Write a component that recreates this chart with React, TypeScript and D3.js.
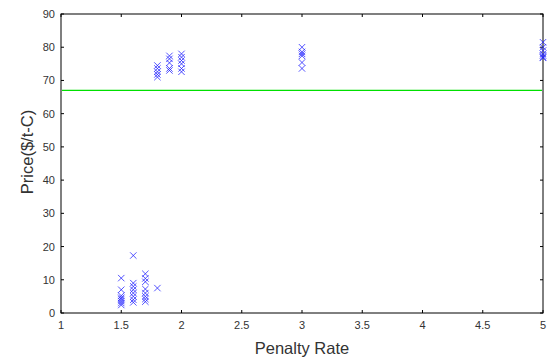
import * as d3 from "d3";
import React, { useRef, useEffect } from "react";

// penalty rates and the prices
const rates = [1.5, 1.6, 1.7, 1.8, 1.9, 2.0, 3.0, 5.0];
const prices = [
  [10.5, 7, 5.2, 4.6, 4.2, 3.6, 3.0, 2.4],
  [17.3, 9, 8, 7, 6, 5, 4, 3.2],
  [11.8, 10.4, 9.4, 7.2, 6, 5, 4.2, 3.4],
  [7.5, 74.5, 73.6, 72.6, 71.8, 71],
  [77.4, 76.5, 75.3, 73.6, 73],
  [78, 77, 76, 75, 73.6, 72.6],
  [80, 78.6, 78, 77.4, 75.4, 73.6],
  [81.5, 80, 79, 78, 77.5, 77, 76.8],
];
const threshold = 67;
const xTicks = [1, 1.5, 2, 2.5, 3, 3.5, 4, 4.5, 5];
const yTicks = [0, 10, 20, 30, 40, 50, 60, 70, 80, 90];

function App() {
  const ref = useRef(null);

  useEffect(() => {
    const svg = d3.select(ref.current);
    svg.selectAll("*").remove();

    const left = 61, right = 543, top = 14, bottom = 313;
    const x = d3.scaleLinear().domain([1, 5]).range([left, right]);
    const y = d3.scaleLinear().domain([0, 90]).range([bottom, top]);
    const font = "Liberation Sans, Arial, sans-serif";

    // frame
    svg.append("rect")
      .attr("x", left).attr("y", top)
      .attr("width", right - left).attr("height", bottom - top)
      .attr("fill", "none").attr("stroke", "#000").attr("stroke-width", 1);

    // inward ticks on all four sides
    const g = svg.append("g").attr("stroke", "#000").attr("stroke-width", 1);
    xTicks.forEach((t) => {
      g.append("line").attr("x1", x(t)).attr("x2", x(t)).attr("y1", bottom).attr("y2", bottom - 3);
      g.append("line").attr("x1", x(t)).attr("x2", x(t)).attr("y1", top).attr("y2", top + 3);
    });
    yTicks.forEach((t) => {
      g.append("line").attr("x1", left).attr("x2", left + 3).attr("y1", y(t)).attr("y2", y(t));
      g.append("line").attr("x1", right).attr("x2", right - 3).attr("y1", y(t)).attr("y2", y(t));
    });

    svg.append("g").selectAll("text").data(xTicks).enter().append("text")
      .attr("x", (d) => x(d)).attr("y", bottom + 16)
      .attr("text-anchor", "middle")
      .attr("font-family", font).attr("font-size", 11).attr("fill", "#333")
      .text((d) => d);

    svg.append("g").selectAll("text").data(yTicks).enter().append("text")
      .attr("x", left - 6).attr("y", (d) => y(d) + 4)
      .attr("text-anchor", "end")
      .attr("font-family", font).attr("font-size", 11).attr("fill", "#333")
      .text((d) => d);

    svg.append("text")
      .attr("x", (left + right) / 2).attr("y", 354)
      .attr("text-anchor", "middle")
      .attr("font-family", font).attr("font-size", 16.5).attr("fill", "#333")
      .text("Penalty Rate");

    svg.append("text")
      .attr("text-anchor", "middle")
      .attr("transform", "translate(33," + 152 + ")rotate(-90)")
      .attr("font-family", font).attr("font-size", 16.5).attr("fill", "#333")
      .text("Price($/t-C)");

    // threshold line
    svg.append("line")
      .attr("x1", left + 1).attr("x2", right - 1)
      .attr("y1", y(threshold)).attr("y2", y(threshold))
      .attr("stroke", "#00e000").attr("stroke-width", 1.2);

    // x markers
    const pts = [];
    rates.forEach((r, i) => prices[i].forEach((p) => pts.push({ x: r, y: p })));
    const s = 3.2;
    svg.append("g").selectAll("path").data(pts).enter().append("path")
      .attr("d", (d) => {
        const cx = x(d.x), cy = y(d.y);
        return `M${cx - s},${cy - s}L${cx + s},${cy + s}M${cx - s},${cy + s}L${cx + s},${cy - s}`;
      })
      .attr("stroke", "#2020ff").attr("stroke-width", 0.9).attr("fill", "none")
      .attr("stroke-opacity", 0.85);
  }, []);

  return (
    <div style={{ position: "absolute", left: 0, top: 0 }}>
      <svg ref={ref} width={548} height={360} style={{ display: "block", background: "#fff" }}></svg>
    </div>
  );
}

export default App;
